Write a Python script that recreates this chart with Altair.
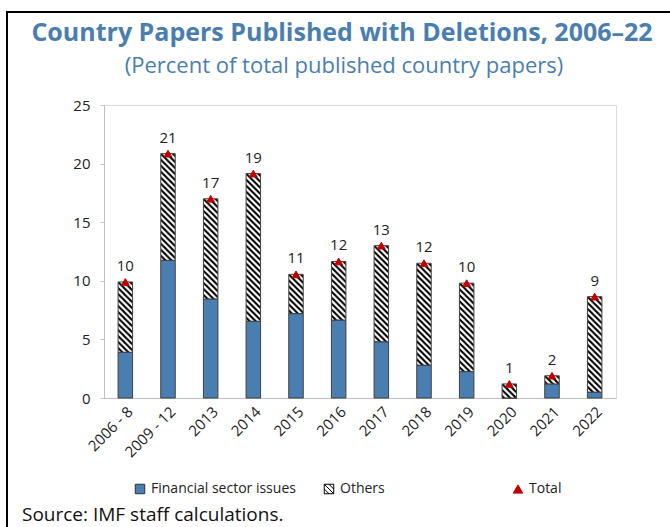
import base64
import altair as alt
import pandas as pd

# ---- data ----
categories = ["2006 - 8", "2009 - 12", "2013", "2014", "2015", "2016",
              "2017", "2018", "2019", "2020", "2021", "2022"]
financial = [3.9, 11.75, 8.45, 6.55, 7.2, 6.65, 4.8, 2.8, 2.25, 0.0, 1.2, 0.5]
others = [6.0, 9.1, 8.55, 12.6, 3.35, 5.0, 8.2, 8.7, 7.55, 1.2, 0.7, 8.15]
series_names = ["Financial sector issues", "Others", "Total"]
y_ticks = [0, 5, 10, 15, 20, 25]

title_text = "Country Papers Published with Deletions, 2006\u201322"
subtitle_text = "(Percent of total published country papers)"
source_text = "Source: IMF staff calculations."

# ---- styles ----
BLUE = "#4A7EB0"
RED = "#C00000"
FONT = "Open Sans"
GREY = "#BFBFBF"

totals = [round(f + o, 2) for f, o in zip(financial, others)]
df = pd.DataFrame({
    "category": categories,
    "financial": financial,
    "total": totals,
    "label": [str(int(round(t))) for t in totals],
    "series": ["Total"] * len(categories),
})

hatch_svg = (
    '<svg xmlns="http://www.w3.org/2000/svg" width="100%" height="100%">'
    '<defs><pattern id="h" width="6" height="6" patternUnits="userSpaceOnUse">'
    '<rect width="6" height="6" fill="white"/>'
    '<path d="M-1,-1L7,7M-1,5L1,7M5,-1L7,1" stroke="black" stroke-width="2"/>'
    '</pattern></defs><rect width="100%" height="100%" fill="url(#h)"/></svg>'
)
hatch_uri = "data:image/svg+xml;base64," + base64.b64encode(hatch_svg.encode()).decode()

others_symbol = "M-1,-1H1V1H-1Z M-1,-1L1,1 M-1,0L0,1 M0,-1L1,0"

X = alt.X("category:N", sort=categories,
          scale=alt.Scale(paddingInner=0.66, paddingOuter=0.33),
          axis=alt.Axis(title=None, labelAngle=-45, labelFontSize=15, labelFont=FONT,
                        labelColor="#222222", ticks=False, labelPadding=6,
                        domainColor=GREY))
YS = alt.Scale(domain=[0, 25], nice=False)
yaxis = alt.Axis(title=None, values=y_ticks, grid=False, labelFontSize=15, labelFont=FONT,
                 labelColor="#222222", tickSize=4, tickColor=GREY, domainColor=GREY,
                 labelPadding=10)

base = alt.Chart(df)

fin_bars = base.mark_bar(fill=BLUE, stroke="#404040", strokeWidth=1).encode(
    x=X, y=alt.Y("financial:Q", scale=YS, axis=yaxis)
)
hatch = base.mark_image(aspect=False).encode(
    x=X, y=alt.Y("financial:Q", scale=YS), y2="total:Q", url=alt.value(hatch_uri)
)
others_outline = base.mark_bar(fill="transparent", stroke="#404040", strokeWidth=1).encode(
    x=X, y=alt.Y("financial:Q", scale=YS), y2="total:Q"
)
legend_spec = alt.Legend(title=None, orient="none", legendX=29, legendY=377,
                         direction="horizontal", columns=3, gridAlign="all",
                         columnPadding=26, labelFontSize=14, labelFont=FONT,
                         labelColor="#222222", symbolSize=90,
                         symbolStrokeWidth=1, labelOffset=4)
tri = base.mark_point(filled=True, size=60, opacity=1, strokeWidth=1).encode(
    x=X, y=alt.Y("total:Q", scale=YS),
    shape=alt.Shape("series:N", scale=alt.Scale(domain=series_names,
                    range=["square", others_symbol, "triangle-up"]), legend=legend_spec),
    fill=alt.Fill("series:N", scale=alt.Scale(domain=series_names,
                  range=[BLUE, "white", RED]), legend=legend_spec),
    stroke=alt.Stroke("series:N", scale=alt.Scale(domain=series_names,
                      range=["#303030", "black", RED]), legend=legend_spec),
)
labels = base.mark_text(dy=-16, fontSize=15, font=FONT, color="#222222").encode(
    x=X, y=alt.Y("total:Q", scale=YS), text="label:N"
)

one = pd.DataFrame({"k": [0]})
frame_v = alt.Chart(one).mark_rule(color="black", strokeWidth=2).encode(
    x=alt.value(-97), y=alt.value(-94), y2=alt.value(430))
frame_h = alt.Chart(one).mark_rule(color="black", strokeWidth=2).encode(
    x=alt.value(-98), x2=alt.value(570), y=alt.value(-93))
title_mark = alt.Chart(one).mark_text(fontSize=25, fontWeight="bold", font=FONT, color=BLUE,
                                      align="center", baseline="middle").encode(
    x=alt.value(238), y=alt.value(-72), text=alt.value(title_text))
subtitle_mark = alt.Chart(one).mark_text(fontSize=22, font=FONT, color=BLUE,
                                         align="center", baseline="middle").encode(
    x=alt.value(240), y=alt.value(-39), text=alt.value(subtitle_text))
source_mark = alt.Chart(one).mark_text(fontSize=19, font=FONT, color="#111111",
                                       align="left", baseline="middle").encode(
    x=alt.value(-82), y=alt.value(410), text=alt.value(source_text))

chart = alt.layer(
    fin_bars, hatch, others_outline, tri, labels,
    frame_v, frame_h, title_mark, subtitle_mark, source_mark
).properties(
    width=512, height=293,
    autosize=alt.AutoSizeParams(type="none"),
    padding={"left": 104, "top": 105, "right": 54, "bottom": 129},
).configure_view(stroke=GREY, strokeWidth=1).configure(background="white")

chart.save("out.html", embed_options={"renderer": "svg", "actions": False})
